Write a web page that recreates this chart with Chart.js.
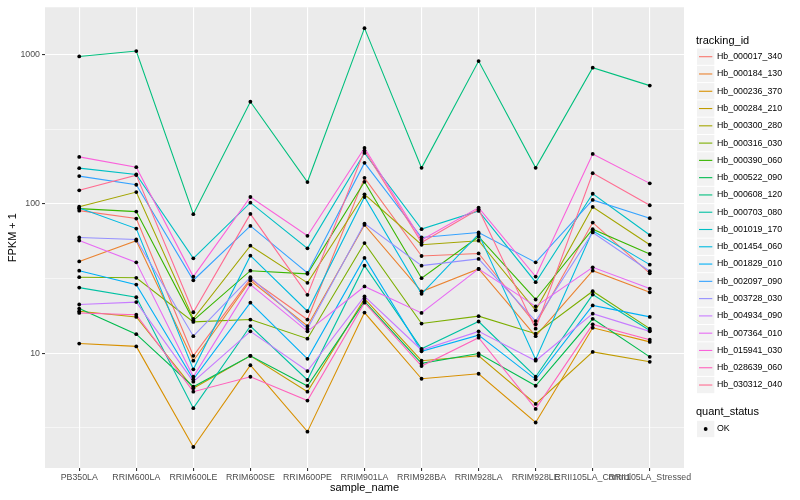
<!DOCTYPE html>
<html>
<head>
<meta charset="utf-8">
<script src="https://cdn.jsdelivr.net/npm/chart.js@4.4.1/dist/chart.umd.min.js"></script>
<style>
  html, body { margin: 0; padding: 0; background: #fff; }
</style>
</head>
<body>
<canvas id="fpkmChart" width="800" height="500"></canvas>
<script>
/* Data */
const categories = ['PB350LA', 'RRIM600LA', 'RRIM600LE', 'RRIM600SE', 'RRIM600PE', 'RRIM901LA',
  'RRIM928BA', 'RRIM928LA', 'RRIM928LE', 'RRII105LA_Control', 'RRII105LA_Stressed'];

const trackingIds = ['Hb_000017_340', 'Hb_000184_130', 'Hb_000236_370', 'Hb_000284_210', 'Hb_000300_280',
  'Hb_000316_030', 'Hb_000390_060', 'Hb_000522_090', 'Hb_000608_120', 'Hb_000703_080',
  'Hb_001019_170', 'Hb_001454_060', 'Hb_001829_010', 'Hb_002097_090', 'Hb_003728_030',
  'Hb_004934_090', 'Hb_007364_010', 'Hb_015941_030', 'Hb_028639_060', 'Hb_030312_040'];

// ggplot default hue palette for 20 levels
const seriesColors = ['#F8766D', '#EA8331', '#D89000', '#C09B00', '#A3A500', '#7CAE00', '#39B600',
  '#00BB4E', '#00BF7D', '#00C1A3', '#00BFC4', '#00BAE0', '#00B0F6', '#35A2FF', '#9590FF',
  '#C77CFF', '#E76BF3', '#FA62DB', '#FF62BC', '#FF6C91'];

// FPKM + 1, one value per sample
const hb_000017_340 = [90.2, 79.8, 9.6, 31.5, 16.8, 149.6, 44.8, 46.6, 15.6, 75.0, 34.3];
const hb_000184_130 = [41.2, 56.7, 8.9, 30.7, 15.2, 72.4, 25.9, 36.7, 13.0, 35.7, 25.6];
const hb_000236_370 = [11.6, 11.1, 2.35, 8.3, 2.98, 18.7, 6.74, 7.28, 3.43, 14.8, 11.9];
const hb_000284_210 = [19.1, 17.5, 5.82, 9.6, 5.52, 23.2, 8.9, 9.6, 4.57, 10.2, 8.75];
const hb_000300_280 = [95.9, 120.2, 17.0, 52.5, 29.6, 116.1, 53.3, 56.7, 19.4, 95.5, 53.3];
const hb_000316_030 = [32.3, 32.0, 16.2, 16.8, 12.5, 54.7, 15.8, 17.7, 13.5, 26.0, 14.6];
const hb_000390_060 = [93.1, 88.9, 16.6, 35.7, 34.0, 140.8, 31.8, 60.3, 22.9, 67.8, 46.2];
const hb_000522_090 = [19.9, 13.4, 5.96, 9.6, 6.03, 22.2, 8.54, 9.95, 6.05, 17.0, 9.45];
const hb_000608_120 = [974, 1059, 85.4, 484, 140.2, 1507, 174.6, 907, 174.6, 819, 621];
const hb_000703_080 = [27.5, 23.7, 4.28, 15.2, 6.61, 38.6, 10.7, 16.3, 6.95, 24.7, 14.2];
const hb_001019_170 = [173.8, 157.8, 43.2, 102, 50.4, 219.8, 67.8, 89.8, 29.9, 117.1, 61.9];
const hb_001454_060 = [94.0, 68.4, 7.79, 45.0, 19.1, 111.3, 25.0, 62.8, 9.08, 66.1, 39.2];
const hb_001829_010 = [35.7, 28.8, 6.68, 21.8, 9.16, 43.5, 10.3, 13.2, 6.68, 20.9, 17.5];
const hb_002097_090 = [153.7, 134.5, 30.8, 71.3, 34.5, 188.5, 59.6, 64.4, 40.6, 106.4, 80.3];
const hb_003728_030 = [59.6, 57.8, 13.0, 32.3, 14.6, 73.9, 38.6, 42.8, 16.4, 64.4, 35.4];
const hb_004934_090 = [21.2, 22.0, 6.44, 14.0, 7.59, 24.0, 10.5, 14.0, 8.9, 18.4, 14.0];
const hb_007364_010 = [56.9, 40.6, 6.95, 28.8, 14.0, 28.0, 18.6, 36.7, 20.6, 37.6, 27.1];
const hb_015941_030 = [206.7, 176.4, 32.6, 111.3, 61.2, 237.3, 57.3, 94.5, 32.6, 216.5, 137.4];
const hb_028639_060 = [18.6, 18.1, 5.52, 6.95, 4.81, 21.8, 8.19, 12.7, 4.23, 15.6, 12.3];
const hb_030312_040 = [123.4, 156.1, 18.8, 85.8, 24.6, 228.0, 55.2, 92.2, 14.6, 160.9, 98.0];

const seriesValues = [hb_000017_340, hb_000184_130, hb_000236_370, hb_000284_210, hb_000300_280,
  hb_000316_030, hb_000390_060, hb_000522_090, hb_000608_120, hb_000703_080,
  hb_001019_170, hb_001454_060, hb_001829_010, hb_002097_090, hb_003728_030,
  hb_004934_090, hb_007364_010, hb_015941_030, hb_028639_060, hb_030312_040];

const yMajorTicks = [10, 100, 1000];
const yMinorTicks = [3.162, 31.62, 316.2];
const quantStatus = ['OK'];

/* Style */
const fontFamily = '"Liberation Sans", Arial, Helvetica, sans-serif';
const panelColor = '#EBEBEB';
const tickTextColor = '#4D4D4D';

// lines (last series drawn on top, like ggplot)
const lineDatasets = seriesValues.map((vals, i) => ({
  type: 'line',
  label: trackingIds[i],
  data: vals.map((v, j) => ({ x: j, y: v })),
  borderColor: seriesColors[i],
  borderWidth: 1.1,
  pointRadius: 0,
  fill: false,
  tension: 0,
  order: seriesValues.length - i
}));

// all points, drawn above the lines
const pointData = [];
seriesValues.forEach(vals => vals.forEach((v, j) => pointData.push({ x: j, y: v })));

const pointDataset = {
  type: 'line',
  label: quantStatus[0],
  data: pointData,
  showLine: false,
  pointRadius: 1.9,
  pointBackgroundColor: '#000',
  pointBorderWidth: 0,
  order: 0
};

const isMajor = v => yMajorTicks.includes(v);

// panel background + legend + axis titles
const ggPlugin = {
  id: 'ggStyle',
  beforeDraw(chart) {
    const ctx = chart.ctx;
    const a = chart.chartArea;
    ctx.save();
    ctx.fillStyle = '#fff';
    ctx.fillRect(0, 0, chart.width, chart.height);
    ctx.fillStyle = panelColor;
    ctx.fillRect(a.left, a.top, a.right - a.left, a.bottom - a.top);
    ctx.restore();
  },
  afterDraw(chart) {
    const ctx = chart.ctx;
    const a = chart.chartArea;
    ctx.save();

    // axis titles
    ctx.fillStyle = '#000';
    ctx.font = '11px ' + fontFamily;
    ctx.textAlign = 'center';
    ctx.textBaseline = 'middle';
    ctx.fillText('sample_name', (a.left + a.right) / 2, 488);
    ctx.save();
    ctx.translate(13, (a.top + a.bottom) / 2);
    ctx.rotate(-Math.PI / 2);
    ctx.fillText('FPKM + 1', 0, 0);
    ctx.restore();

    // legend: tracking_id
    const keyX = 697, keyW = 17.3, rowH = 17.28, firstY = 56.7;
    ctx.textAlign = 'left';
    ctx.font = '11px ' + fontFamily;
    ctx.fillText('tracking_id', 696, 40.5);
    ctx.font = '8.8px ' + fontFamily;
    trackingIds.forEach((id, i) => {
      const cy = firstY + i * rowH;
      ctx.fillStyle = '#F2F2F2';
      ctx.fillRect(keyX, cy - rowH / 2 + 0.5, keyW, rowH - 1);
      ctx.strokeStyle = seriesColors[i];
      ctx.lineWidth = 1.1;
      ctx.beginPath();
      ctx.moveTo(keyX + 2, cy);
      ctx.lineTo(keyX + keyW - 2, cy);
      ctx.stroke();
      ctx.fillStyle = '#000';
      ctx.fillText(id, 717, cy);
    });

    // legend: quant_status
    ctx.font = '11px ' + fontFamily;
    ctx.fillText('quant_status', 696, 412.3);
    const okY = 429;
    ctx.fillStyle = '#F2F2F2';
    ctx.fillRect(keyX, okY - rowH / 2 + 0.5, keyW, rowH - 1);
    ctx.fillStyle = '#000';
    ctx.beginPath();
    ctx.arc(keyX + keyW / 2, okY, 1.9, 0, Math.PI * 2);
    ctx.fill();
    ctx.font = '8.8px ' + fontFamily;
    ctx.fillText(quantStatus[0], 717, okY);

    ctx.restore();
  }
};

const canvasFpkm = document.getElementById('fpkmChart');
const fpkmChart = new Chart(canvasFpkm.getContext('2d'), {
  type: 'line',
  data: { datasets: lineDatasets.concat([pointDataset]) },
  options: {
    responsive: false,
    animation: false,
    layout: { padding: { top: 5, right: 116, left: 0, bottom: 0 } },
    plugins: {
      legend: { display: false },
      tooltip: { enabled: false }
    },
    scales: {
      x: {
        type: 'linear',
        min: -0.6,
        max: 10.6,
        afterBuildTicks: scale => {
          scale.ticks = categories.map((c, i) => ({ value: i }));
        },
        afterFit: scale => { scale.height = 32; },
        border: { display: false },
        grid: {
          color: '#fff',
          lineWidth: 1.1,
          drawTicks: true,
          tickLength: 3,
          tickColor: '#333'
        },
        ticks: {
          autoSkip: false,
          maxRotation: 0,
          minRotation: 0,
          padding: 1,
          color: tickTextColor,
          font: { family: fontFamily, size: 8.8 },
          callback: value => categories[value]
        }
      },
      y: {
        type: 'logarithmic',
        min: 1.70,
        max: 2080,
        afterBuildTicks: scale => {
          scale.ticks = yMinorTicks.concat(yMajorTicks)
            .sort((p, q) => p - q)
            .map(v => ({ value: v, major: isMajor(v) }));
        },
        afterFit: scale => { scale.width = 45; },
        border: { display: false },
        grid: {
          color: '#fff',
          lineWidth: ctx => (ctx.tick && isMajor(ctx.tick.value)) ? 1.1 : 0.55,
          drawTicks: true,
          tickLength: 3,
          tickColor: ctx => (ctx.tick && isMajor(ctx.tick.value)) ? '#333' : 'rgba(0,0,0,0)'
        },
        ticks: {
          autoSkip: false,
          padding: 2,
          color: tickTextColor,
          font: { family: fontFamily, size: 8.8 },
          callback: value => isMajor(value) ? String(value) : ''
        }
      }
    }
  },
  plugins: [ggPlugin]
});
</script>
</body>
</html>
